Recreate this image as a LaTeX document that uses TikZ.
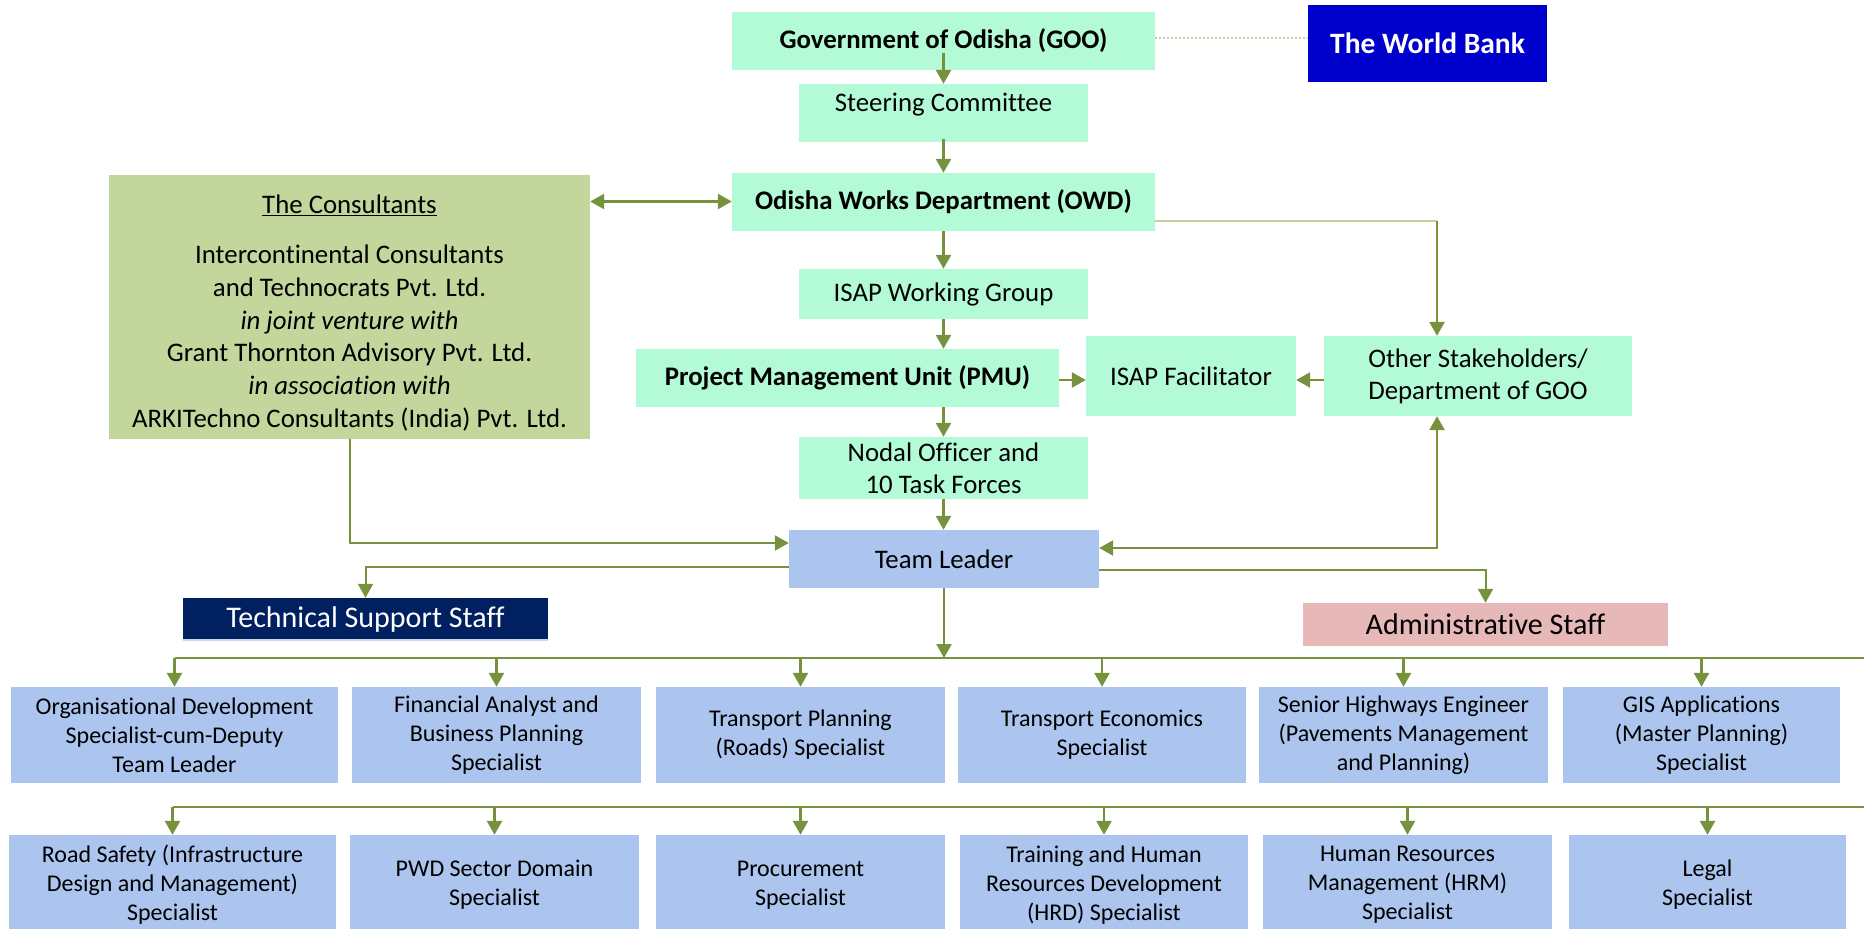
\documentclass[tikz,border=0pt]{standalone}
\usepackage{fontspec}
\setmainfont{Carlito}[Ligatures=NoCommon]
\usetikzlibrary{arrows.meta}
\definecolor{mint}{HTML}{B3FAD6}
\definecolor{olive}{HTML}{C3D69B}
\definecolor{lblue}{HTML}{ABC5EE}
\definecolor{wbblue}{HTML}{0000CC}
\definecolor{navy}{HTML}{002060}
\definecolor{rose}{HTML}{E6B8B7}
\definecolor{agreen}{HTML}{76923C}
\definecolor{pale}{HTML}{C4D0A0}
\definecolor{edgeblue}{HTML}{C6D9F1}
\begin{document}
\begin{tikzpicture}[x=1pt,y=-1pt,
  sz/.style 2 args={minimum width=#1pt, minimum height=#2pt},
  box/.style={draw=none, inner sep=0pt, align=center, anchor=center},
  mintbox/.style={box, fill=mint, font=\fontsize{26.8}{32}\selectfont},
  bluebox/.style={box, fill=lblue, font=\fontsize{24}{29}\selectfont},
  txt/.style={inner sep=0pt, align=center, anchor=center},
  tip/.style={-{Triangle[length=14pt,width=15pt]}},
  arr/.style={draw=agreen, line width=2.6pt, tip},
  darr/.style={draw=agreen, line width=2.6pt, {Triangle[length=14pt,width=15pt]}-{Triangle[length=14pt,width=15pt]}},
  ln/.style={draw=agreen, line width=2.4pt},
  thinarr/.style={draw=agreen, line width=2pt, tip}
]
\useasboundingbox (0,0) rectangle (1864,929);

% top section
\node[mintbox, sz={423}{58}, font=\fontsize{26.8}{32}\selectfont\bfseries] (goo) at (943.5,41) {Government of Odisha (GOO)};
\node[box, sz={239}{77}, fill=wbblue, text=white, font=\fontsize{29.5}{35}\selectfont\bfseries] (wb) at (1427.5,43.5) {The World Bank};
\node[mintbox, sz={289}{58}] (sc) at (943.5,113) {};
\node[txt, font=\fontsize{26.8}{32}\selectfont] (sct) at (943.5,105) {Steering Committee};
\node[mintbox, sz={423}{58}, font=\fontsize{26.8}{32}\selectfont\bfseries] (owd) at (943.5,202) {Odisha Works Department (OWD)};
\node[mintbox, sz={289}{50}] (wg) at (943.5,294) {ISAP Working Group};
\node[mintbox, sz={423}{58}, font=\fontsize{26.8}{32}\selectfont\bfseries] (pmu) at (847.5,378) {Project Management Unit (PMU)};
\node[mintbox, sz={210}{80}] (fac) at (1191,376) {ISAP Facilitator};
\node[mintbox, sz={308}{80}] (oth) at (1478,376) {Other Stakeholders/\\Department of GOO};
\node[mintbox, sz={289}{62}] (nod) at (943.5,468) {Nodal Officer and\\10 Task Forces};

% consultants
\node[box, sz={481}{264}, fill=olive] (con) at (349.5,307) {};
\node[txt, font=\fontsize{26.8}{32}\selectfont] (cont) at (349.5,205) {\underline{The Consultants}};
\node[txt, font=\fontsize{26.8}{32.7}\selectfont] (conb) at (349.5,338) {Intercontinental Consultants\\and Technocrats Pvt. Ltd.\\\textit{in joint venture with}\\Grant Thornton Advisory Pvt. Ltd.\\\textit{in association with}\\ARKITechno Consultants (India) Pvt. Ltd.};

% team leader and staff
\node[box, sz={310}{58}, fill=lblue, font=\fontsize{26.8}{32}\selectfont] (tl) at (944,559) {Team Leader};
\node[box, sz={365}{43}, fill=navy, text=white, font=\fontsize{30}{36}\selectfont] (tech) at (365.5,619.5) {Technical Support Staff};
\draw[edgeblue, line width=2pt] ([yshift=1pt]tech.south west) -- ([yshift=1pt]tech.south east);
\node[box, sz={365}{43}, fill=rose, font=\fontsize{30}{36}\selectfont] (adm) at (1485.5,624.5) {Administrative Staff};

% row 1
\node[bluebox, sz={327}{96}] (b1) at (174.5,735) {Organisational Development\\Specialist-cum-Deputy\\Team Leader};
\node[bluebox, sz={289}{96}] (b2) at (496.5,735) {Financial Analyst and\\Business Planning\\Specialist};
\node[bluebox, sz={289}{96}] (b3) at (800.5,735) {Transport Planning\\(Roads) Specialist};
\node[bluebox, sz={288}{96}] (b4) at (1102,735) {Transport Economics\\Specialist};
\node[bluebox, sz={289}{96}] (b5) at (1403.5,735) {Senior Highways Engineer\\(Pavements Management\\and Planning)};
\node[bluebox, sz={277}{96}] (b6) at (1701.5,735) {GIS Applications\\(Master Planning)\\Specialist};

% row 2
\node[bluebox, sz={327}{100}] (c1) at (172.5,885) {Road Safety (Infrastructure\\Design and Management)\\Specialist};
\node[bluebox, sz={289}{100}] (c2) at (494.5,885) {PWD Sector Domain\\Specialist};
\node[bluebox, sz={289}{100}] (c3) at (800.5,885) {Procurement\\Specialist};
\node[bluebox, sz={288}{100}] (c4) at (1104,885) {Training and Human\\Resources Development\\(HRD) Specialist};
\node[bluebox, sz={289}{100}] (c5) at (1407.5,885) {Human Resources\\Management (HRM)\\Specialist};
\node[bluebox, sz={277}{100}] (c6) at (1707.5,885) {Legal\\Specialist};

% coordinates
\coordinate (wbl) at (0,38);
\coordinate (ow) at (1437,221);
\coordinate (oj) at (1437,548);
\coordinate (cj) at (349.5,543);
\coordinate (tj) at (365.5,567);
\coordinate (aj) at (1485.5,570);
\coordinate (r1) at (0,658);
\coordinate (r1e) at (1864,658);
\coordinate (r2) at (0,807);
\coordinate (r2e) at (1864,807);

% connectors top
\draw[pale, line width=2pt, dotted] (goo.east |- wbl) -- (wb.west |- wbl);
\draw[arr] ([yshift=17pt]goo.south) -- (sc.north);
\draw[arr] ([yshift=3pt]sc.south) -- (owd.north);
\draw[darr] (con.east |- 0,201.5) -- (owd.west |- 0,201.5);
\draw[arr] (owd.south) -- (wg.north);
\draw[arr] (wg.south) -- (wg.south |- pmu.north);
\draw[pale, line width=2pt] (owd.east |- ow) -- (ow);
\draw[arr] (ow) -- (ow |- oth.north);
\draw[arr] ([yshift=-2pt]pmu.east) -- ([yshift=-2pt]pmu.east -| fac.west);
\draw[arr] ([yshift=-4pt]oth.west) -- ([yshift=-4pt]fac.east);
\draw[arr] (nod.north |- pmu.south) -- (nod.north);
\draw[arr] (nod.south) -- (nod.south |- tl.north);
\draw[darr] (tl.east |- oj) -- (oj) -- (oj |- oth.south);
\draw[draw=agreen, line width=2pt, tip] (con.south -| cj) -- (cj) -- (tl.west |- cj);
\draw[thinarr] (tl.west |- tj) -- (tj) -- (tech.north);
\draw[thinarr] (tl.east |- aj) -- (aj) -- (adm.north);
\draw[arr] (tl.south) -- (tl.south |- r1);

% row lines
\draw[ln] (b1.north |- r1) -- (r1e);
\foreach \n in {b1,b2,b3,b4,b5,b6} \draw[arr] (\n.north |- r1) -- (\n.north);
\draw[ln] (c1.north |- r2) -- (r2e);
\foreach \n in {c1,c2,c3,c4,c5,c6} \draw[arr] (\n.north |- r2) -- (\n.north);
\end{tikzpicture}
\end{document}
